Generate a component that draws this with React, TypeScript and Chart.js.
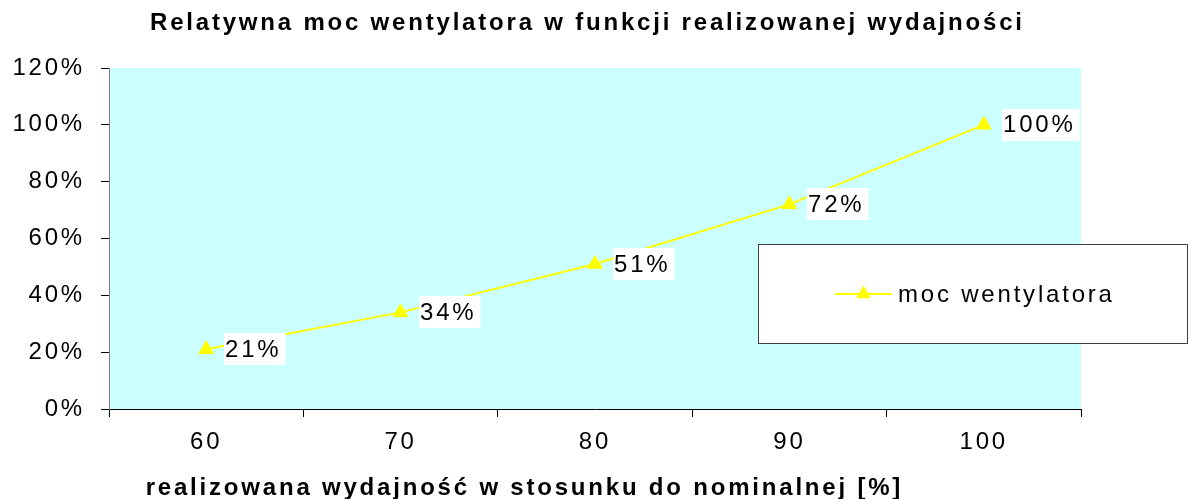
import React, { useEffect, useRef } from 'react';
import { Chart, registerables } from 'chart.js';

Chart.register(...registerables);

const categories = ['60', '70', '80', '90', '100'];
const powerValues = [0.21, 0.34, 0.51, 0.72, 1.0];
const seriesLabel = 'moc wentylatora';
const chartTitle = 'Relatywna moc wentylatora w funkcji realizowanej wydajności';
const xAxisTitle = 'realizowana wydajność w stosunku do nominalnej [%]';
const yMin = 0;
const yMax = 1.2;
const yStep = 0.2;

const FONT = '"Liberation Sans", Arial, Helvetica, sans-serif';
const LS = 2.8;
const LS_BOLD = 2.8;
const YELLOW = '#FFFF00';
const PLOT_BG = '#CCFFFF';

const pct = (v: number) => Math.round(v * 100) + '%';

function drawSpacedText(ctx: CanvasRenderingContext2D, text: string, x: number, y: number, align: 'left' | 'center', ls: number) {
  ctx.letterSpacing = ls + 'px';
  const w = ctx.measureText(text).width - ls;
  ctx.textAlign = 'left';
  const sx = align === 'center' ? x - w / 2 : x;
  ctx.fillText(text, sx, y);
}

function triangle(ctx: CanvasRenderingContext2D, x: number, y: number, r: number) {
  let rad = 0;
  ctx.beginPath();
  ctx.moveTo(x + Math.sin(rad) * r, y - Math.cos(rad) * r);
  rad += (2 * Math.PI) / 3;
  ctx.lineTo(x + Math.sin(rad) * r, y - Math.cos(rad) * r);
  rad += (2 * Math.PI) / 3;
  ctx.lineTo(x + Math.sin(rad) * r, y - Math.cos(rad) * r);
  ctx.closePath();
  ctx.fill();
}

const decorPlugin = {
  id: 'decor',
  beforeLayout(chart: any) {
    chart.ctx.letterSpacing = LS + 'px';
  },
  beforeDraw(chart: any) {
    const { ctx, chartArea } = chart;
    ctx.letterSpacing = LS + 'px';
    ctx.save();
    ctx.fillStyle = PLOT_BG;
    ctx.fillRect(chartArea.left, chartArea.top, chartArea.right - chartArea.left, chartArea.bottom - chartArea.top);
    ctx.restore();
  },
  afterDatasetsDraw(chart: any) {
    const { ctx } = chart;
    const meta = chart.getDatasetMeta(0);
    const data = chart.data.datasets[0].data as number[];
    ctx.save();
    ctx.font = `24px ${FONT}`;
    ctx.letterSpacing = LS + 'px';
    ctx.textBaseline = 'middle';
    meta.data.forEach((pt: any, i: number) => {
      const text = pct(data[i]);
      const w = ctx.measureText(text).width;
      const bx = Math.round(pt.x + 18);
      const by = Math.round(pt.y - 16);
      ctx.fillStyle = '#FFFFFF';
      ctx.fillRect(bx, by, w + 5, 32);
      ctx.fillStyle = '#000000';
      ctx.textAlign = 'left';
      ctx.fillText(text, bx + 1, pt.y + 1);
    });
    ctx.restore();
  },
  afterDraw(chart: any) {
    const { ctx } = chart;
    const ds = chart.data.datasets[0];
    ctx.save();
    // legend
    ctx.fillStyle = '#FFFFFF';
    ctx.fillRect(758.5, 244.5, 429, 99);
    ctx.strokeStyle = '#404040';
    ctx.lineWidth = 1;
    ctx.strokeRect(758.5, 244.5, 429, 99);
    ctx.strokeStyle = YELLOW;
    ctx.lineWidth = 2;
    ctx.beginPath();
    ctx.moveTo(835, 294);
    ctx.lineTo(892, 294);
    ctx.stroke();
    ctx.fillStyle = YELLOW;
    triangle(ctx, 863.5, 294, 8.5);
    ctx.fillStyle = '#000000';
    ctx.font = `24px ${FONT}`;
    ctx.textBaseline = 'middle';
    drawSpacedText(ctx, ds.label, 898, 295, 'left', LS);
    // titles
    ctx.font = `bold 24px ${FONT}`;
    drawSpacedText(ctx, chartTitle, 586, 23, 'center', LS_BOLD);
    drawSpacedText(ctx, xAxisTitle, 523, 488, 'center', LS_BOLD);
    ctx.restore();
  },
};

export default function App() {
  const canvasRef = useRef<HTMLCanvasElement | null>(null);

  useEffect(() => {
    const canvas = canvasRef.current;
    if (!canvas) return;
    const chart = new Chart(canvas, {
      type: 'line',
      data: {
        labels: categories,
        datasets: [
          {
            label: seriesLabel,
            data: powerValues,
            borderColor: YELLOW,
            backgroundColor: YELLOW,
            borderWidth: 2,
            pointStyle: 'triangle',
            pointRadius: 8.5,
            pointBorderWidth: 1,
            pointBackgroundColor: YELLOW,
            pointBorderColor: YELLOW,
            tension: 0,
            fill: false,
          },
        ],
      },
      options: {
        responsive: false,
        animation: false,
        devicePixelRatio: 1,
        layout: { padding: { top: 68, right: 110, bottom: 0, left: 0 } },
        plugins: {
          legend: { display: false },
          title: { display: false },
          tooltip: { enabled: false },
        },
        scales: {
          x: {
            type: 'category',
            offset: true,
            grid: {
              offset: true,
              drawOnChartArea: false,
              drawTicks: true,
              tickLength: 8,
              tickColor: '#000000',
              tickWidth: 1,
            },
            border: { display: true, color: '#000000', width: 1 },
            ticks: {
              color: '#000000',
              font: { family: FONT, size: 24 },
              padding: 11,
              maxRotation: 0,
              autoSkip: false,
            },
            afterFit: (scale: any) => {
              scale.height = 90;
            },
          },
          y: {
            type: 'linear',
            min: yMin,
            max: yMax,
            grid: {
              drawOnChartArea: false,
              drawTicks: true,
              tickLength: 8,
              tickColor: '#000000',
              tickWidth: 1,
            },
            border: { display: true, color: '#808080', width: 1 },
            ticks: {
              stepSize: yStep,
              color: '#000000',
              font: { family: FONT, size: 24 },
              padding: 16,
              callback: (v: any) => pct(Number(v)),
            },
            afterFit: (scale: any) => {
              scale.width = 109;
            },
          },
        },
      },
      plugins: [decorPlugin],
    } as any);
    return () => chart.destroy();
  }, []);

  return (
    <div style={{ position: 'absolute', left: 0, top: 0, width: 1191, height: 499 }}>
      <canvas ref={canvasRef} width={1191} height={499} style={{ display: 'block' }} />
    </div>
  );
}
